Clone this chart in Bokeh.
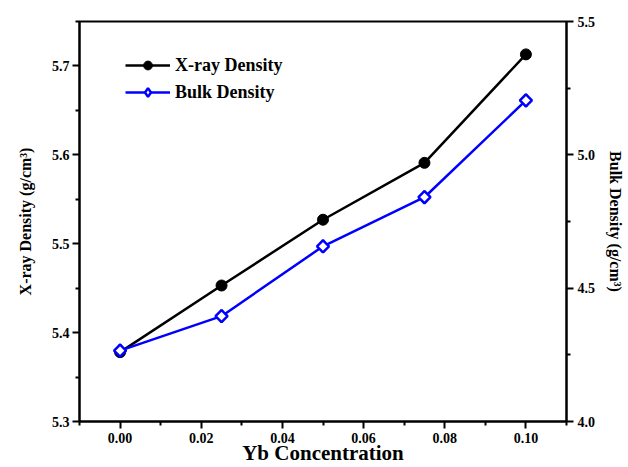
from bokeh.plotting import figure
from bokeh.models import Range1d, LinearAxis, Legend, LegendItem, FixedTicker, NumeralTickFormatter
from bokeh.embed import file_html
from bokeh.resources import INLINE

yb_conc = [0.0, 0.025, 0.05, 0.075, 0.10]
xray_density = [5.378, 5.453, 5.527, 5.591, 5.713]
bulk_density = [4.266, 4.395, 4.657, 4.841, 5.204]

FONT = "Liberation Serif"

p = figure(width=628, height=467, output_backend="svg", toolbar_location=None,
           x_range=Range1d(-0.01, 0.11), y_range=Range1d(5.3, 5.75),
           min_border_left=79, min_border_right=62, min_border_top=21, min_border_bottom=46)
p.extra_y_ranges = {"bulk": Range1d(4.0, 5.5)}
p.grid.visible = False
p.outline_line_color = "black"
p.outline_line_width = 2
p.background_fill_color = "white"
p.border_fill_color = "white"

def style_axis(ax, label_size):
    ax.axis_line_width = 2
    ax.major_tick_line_width = 2
    ax.minor_tick_line_width = 2
    ax.major_tick_out = 7
    ax.major_tick_in = 0
    ax.minor_tick_out = 4
    ax.minor_tick_in = 0
    ax.major_label_text_font = FONT
    ax.major_label_text_font_style = "bold"
    ax.major_label_text_font_size = "14px"
    ax.major_label_text_color = "black"
    ax.axis_label_text_font = FONT
    ax.axis_label_text_font_style = "bold"
    ax.axis_label_text_font_size = label_size
    ax.axis_label_text_color = "black"

xa = p.xaxis[0]
xa.ticker = FixedTicker(ticks=[0.0, 0.02, 0.04, 0.06, 0.08, 0.10],
                        minor_ticks=[-0.01, 0.01, 0.03, 0.05, 0.07, 0.09, 0.11])
xa.formatter = NumeralTickFormatter(format="0.00")
xa.axis_label = "Yb Concentration"
style_axis(xa, "21px")
xa.major_label_standoff = 4
xa.axis_label_standoff = -5

ya = p.yaxis[0]
ya.ticker = FixedTicker(ticks=[5.3, 5.4, 5.5, 5.6, 5.7],
                        minor_ticks=[5.35, 5.45, 5.55, 5.65, 5.75])
ya.formatter = NumeralTickFormatter(format="0.0")
ya.axis_label = "X-ray Density (g/cm³)"
style_axis(ya, "16px")
ya.major_label_standoff = 3
ya.axis_label_standoff = 15

ra = LinearAxis(y_range_name="bulk", axis_label="Bulk Density (g/cm³)")
ra.ticker = FixedTicker(ticks=[4.0, 4.5, 5.0, 5.5], minor_ticks=[4.25, 4.75, 5.25])
ra.formatter = NumeralTickFormatter(format="0.0")
style_axis(ra, "16px")
ra.major_label_standoff = 4
ra.axis_label_standoff = 9
p.add_layout(ra, "right")

l1 = p.line(yb_conc, xray_density, line_color="black", line_width=2.5)
m1 = p.scatter(yb_conc, xray_density, marker="circle", size=11,
               fill_color="black", line_color="black")
l2 = p.line(yb_conc, bulk_density, y_range_name="bulk", line_color="#0000ff", line_width=2.5)
m2 = p.scatter(yb_conc, bulk_density, y_range_name="bulk", marker="diamond", size=12,
               fill_color="white", line_color="#0000ff", line_width=2.5)
p.rect(yb_conc, bulk_density, y_range_name="bulk", width=8.5, height=8.5,
       width_units="screen", height_units="screen", angle=45, angle_units="deg",
       fill_color="white", line_color="#0000ff", line_width=2.5)

legend = Legend(items=[LegendItem(label="X-ray Density", renderers=[l1, m1]),
                       LegendItem(label="Bulk Density", renderers=[l2, m2])],
                location=(46, 318), orientation="vertical")
legend.border_line_color = None
legend.background_fill_alpha = 0
legend.padding = 0
legend.margin = 0
legend.spacing = 5
legend.glyph_width = 45
legend.glyph_height = 22
legend.label_height = 22
legend.label_standoff = 5
legend.label_text_font = FONT
legend.label_text_font_style = "bold"
legend.label_text_font_size = "18px"
legend.label_text_color = "black"
p.add_layout(legend, "center")

open("out.html", "w").write(file_html(p, INLINE))
